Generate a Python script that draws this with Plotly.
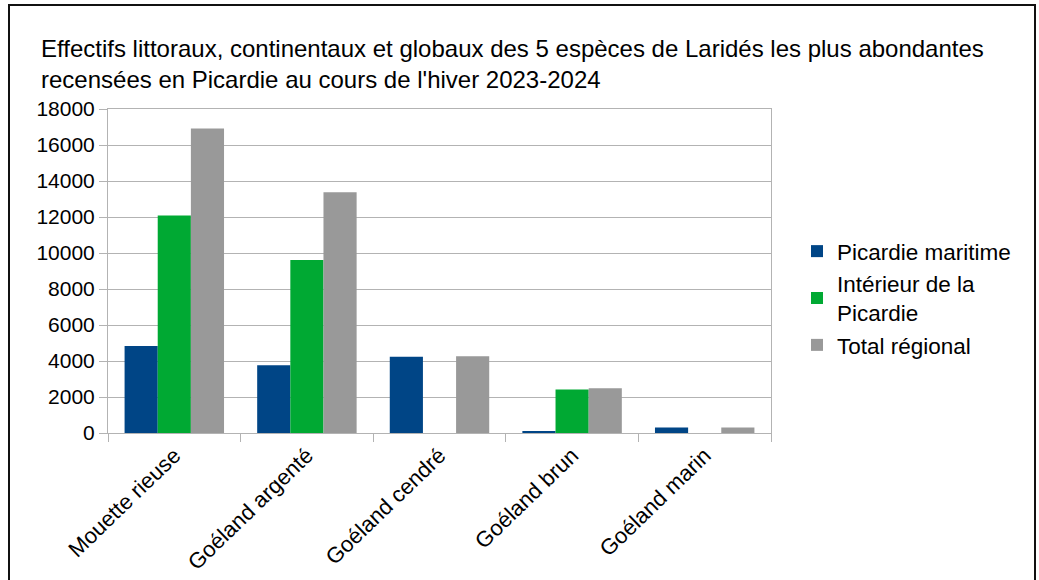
import plotly.graph_objects as go

categories = ["Mouette rieuse", "Goéland argenté", "Goéland cendré", "Goéland brun", "Goéland marin"]
maritime = [4830, 3760, 4240, 60, 300]
interieur = [12080, 9610, 0, 2410, 0]
total = [16910, 13370, 4270, 2480, 300]
series_names = ["Picardie maritime", "Intérieur de la<br>Picardie", "Total régional"]
colors = ["#004586", "#00a933", "#999999"]
y_ticks = list(range(0, 18001, 2000))

W, H = 1039, 580
L, R, T, B = 108, 771, 109, 433

fig = go.Figure()
for name, vals, col in zip(series_names, [maritime, interieur, total], colors):
    fig.add_trace(go.Bar(x=categories, y=vals, name=name, marker=dict(color=col, line=dict(width=0))))

def px_x(p):
    return (p - L) / (R - L)

def px_y(p):
    return (B - p) / (B - T)

fig.update_layout(
    width=W, height=H,
    margin=dict(l=L, r=W - R, t=T, b=H - B, autoexpand=False),
    paper_bgcolor="white", plot_bgcolor="white",
    font=dict(family="Liberation Sans, Arial, sans-serif", size=21, color="#000000"),
    barmode="group", bargap=0.25, bargroupgap=0,
    title=dict(
        text="Effectifs littoraux, continentaux et globaux des 5 espèces de Laridés les plus abondantes<br>recensées en Picardie au cours de l'hiver 2023-2024",
        x=41 / W, xref="container", xanchor="left",
        y=1 - 57 / H, yref="container", yanchor="top",
        font=dict(size=24, color="#000000"),
    ),
    legend=dict(
        x=px_x(797), xanchor="left", y=px_y(298), yanchor="middle",
        font=dict(size=22.5), tracegroupgap=6, itemwidth=30,
        bgcolor="rgba(0,0,0,0)",
    ),
    showlegend=True,
)
fig.update_xaxes(
    showline=True, linecolor="#b3b3b3", linewidth=1, mirror=True,
    ticks="outside", tickson="boundaries", ticklen=8, tickcolor="#b3b3b3",
    tickangle=-44, showgrid=False, tickfont=dict(size=22),
)
fig.update_yaxes(
    range=[0, 18000], tickvals=y_ticks, ticktext=[str(v) for v in y_ticks],
    showline=True, linecolor="#b3b3b3", linewidth=1, mirror=True,
    ticks="outside", ticklen=8, tickcolor="#b3b3b3",
    showgrid=True, gridcolor="#b3b3b3", gridwidth=1, zeroline=False,
    tickfont=dict(size=21),
)
fig.add_shape(
    type="rect", xref="paper", yref="paper",
    x0=px_x(9), x1=px_x(1035), y0=px_y(600), y1=px_y(5),
    line=dict(color="#111111", width=2), fillcolor="rgba(0,0,0,0)", layer="above",
)
fig.write_html(
    "out.html",
    config={"displayModeBar": False},
    post_script="document.body.style.margin='0';document.body.style.overflow='hidden';",
)
